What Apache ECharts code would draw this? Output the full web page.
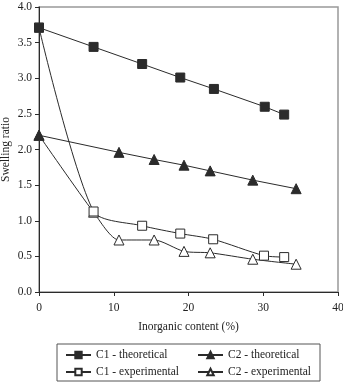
<!DOCTYPE html>
<html>
<head>
<meta charset="utf-8">
<script src="https://cdn.jsdelivr.net/npm/echarts@6/dist/echarts.min.js"></script>
<style>
html, body { margin: 0; padding: 0; background: #fff; }
#main { width: 343px; height: 382px; }
</style>
</head>
<body>
<div id="main"></div>
<script>
var chart = echarts.init(document.getElementById('main'));

// inorganic content (%) for each series
var c1TheoX = [0, 7.3, 13.8, 18.9, 23.4, 30.2, 32.8];
var c1TheoY = [3.71, 3.44, 3.20, 3.01, 2.85, 2.60, 2.49];
var c2TheoX = [0, 10.7, 15.4, 19.4, 22.9, 28.6, 34.4];
var c2TheoY = [2.20, 1.96, 1.86, 1.78, 1.70, 1.57, 1.45];
var c1ExpX = [0, 7.3, 13.8, 18.9, 23.3, 30.1, 32.8];
var c1ExpY = [3.71, 1.13, 0.93, 0.82, 0.74, 0.51, 0.49];
var c2ExpX = [0, 7.3, 10.7, 15.4, 19.4, 22.9, 28.6, 34.4];
var c2ExpY = [2.20, 1.12, 0.73, 0.73, 0.57, 0.55, 0.46, 0.39];

function pairs(xs, ys) {
    return xs.map(function (x, i) { return [x, ys[i]]; });
}

var font = 'Liberation Serif';
var ink = '#2b2b2b';

function lineSeries(name, xs, ys, symbol, filled, smooth, z) {
    return {
        name: name,
        type: 'line',
        data: pairs(xs, ys),
        symbol: symbol,
        symbolSize: symbol === 'rect' ? 9 : 10,
        smooth: smooth,
        z: z,
        lineStyle: { color: ink, width: 1 },
        itemStyle: {
            color: filled ? ink : '#fff',
            borderColor: ink,
            borderWidth: 1
        },
        emphasis: { disabled: true }
    };
}

var legendText = { fontFamily: font, fontSize: 11.5, color: '#222' };

var option = {
    animation: false,
    backgroundColor: '#fff',
    grid: {
        left: 39, right: 5, top: 7, bottom: 90,
        outerBoundsMode: 'none',
        containLabel: false,
        show: true, borderColor: '#999', borderWidth: 1.5
    },
    xAxis: {
        type: 'value',
        min: 0, max: 40, interval: 10,
        name: 'Inorganic content (%)',
        nameLocation: 'middle',
        nameGap: 29,
        nameMoveOverlap: false,
        nameTextStyle: { fontFamily: font, fontSize: 11.5, color: '#222' },
        axisLine: { onZero: false, lineStyle: { color: ink, width: 1 } },
        axisTick: { show: true, inside: false, length: 4, lineStyle: { color: ink } },
        axisLabel: { fontFamily: font, fontSize: 11.5, color: '#222', margin: 10 },
        splitLine: { show: false }
    },
    yAxis: {
        type: 'value',
        min: 0, max: 4, interval: 0.5,
        name: 'Swelling ratio',
        nameLocation: 'middle',
        nameGap: 27,
        nameMoveOverlap: false,
        nameTextStyle: { fontFamily: font, fontSize: 11.5, color: '#222' },
        axisLine: { show: true, onZero: false, lineStyle: { color: ink, width: 1 } },
        axisTick: { show: true, inside: false, length: 4, lineStyle: { color: ink } },
        axisLabel: {
            fontFamily: font, fontSize: 11.5, color: '#222', margin: 7,
            formatter: function (v) { return v.toFixed(1); }
        },
        splitLine: { show: false }
    },
    legend: [{
        orient: 'vertical',
        left: 65, top: 349, height: 36,
        padding: 0,
        itemWidth: 25, itemHeight: 8, itemGap: 5,
        textStyle: legendText,
        data: ['C1 - theoretical', 'C1 - experimental']
    }, {
        orient: 'vertical',
        left: 197, top: 349, height: 36,
        padding: 0,
        itemWidth: 25, itemHeight: 8, itemGap: 5,
        textStyle: legendText,
        data: ['C2 - theoretical', 'C2 - experimental']
    }],
    graphic: [{
        type: 'rect',
        shape: { x: 57, y: 344, width: 263, height: 37 },
        style: { fill: 'none', stroke: '#555', lineWidth: 1 }
    }],
    series: [
        lineSeries('C2 - experimental', c2ExpX, c2ExpY, 'triangle', false, 0.25, 2),
        lineSeries('C1 - experimental', c1ExpX, c1ExpY, 'rect', false, 0.25, 3),
        lineSeries('C2 - theoretical', c2TheoX, c2TheoY, 'triangle', true, false, 4),
        lineSeries('C1 - theoretical', c1TheoX, c1TheoY, 'rect', true, false, 5)
    ]
};

chart.setOption(option);

window.onresize = chart.resize;
</script>
</body>
</html>
